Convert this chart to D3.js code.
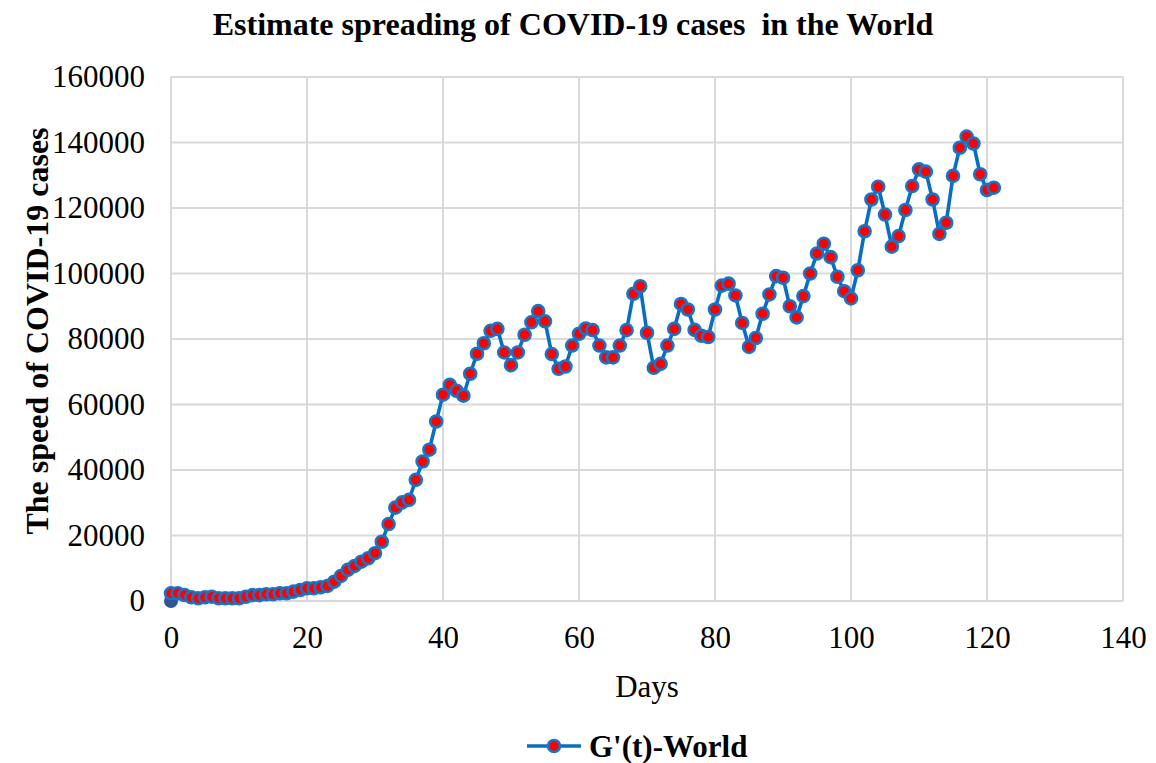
<!DOCTYPE html>
<html>
<head>
<meta charset="utf-8">
<script src="https://cdn.jsdelivr.net/npm/d3@7"></script>
<style>
  html, body { margin: 0; padding: 0; background: #fff; }
  svg { display: block; font-family: "Liberation Serif", "Times New Roman", serif; }
</style>
</head>
<body>
<svg id="chart" width="1156" height="763"></svg>
<script>
// Daily speed of new COVID-19 cases worldwide, G'(t), day 0 .. 121
const days = d3.range(0, 122);
const speed = [
  2350, 2350, 1830, 1130, 830, 1130, 1310, 830, 830, 830,
  830, 1300, 1800, 1800, 2050, 2050, 2350, 2350, 2850, 3350,
  3900, 3900, 4200, 4600, 5900, 7650, 9500, 10700, 12000, 13050,
  14600, 18100, 23500, 28500, 30100, 30900, 37000, 42600, 46200, 54800,
  63000, 66000, 64200, 62700, 69400, 75500, 78700, 82500, 83100, 75900,
  72000, 75900, 81300, 85100, 88500, 85400, 75400, 70900, 71600, 78000,
  81600, 83200, 82700, 78000, 74400, 74400, 78000, 82700, 93800, 96100,
  81900, 71200, 72400, 78000, 83100, 90700, 89000, 82800, 81000, 80600,
  89000, 96300, 96900, 93300, 84900, 77600, 80300, 87700, 93600, 99200,
  98700, 90000, 86600, 93100, 100000, 106100, 109100, 105000, 99000, 94600,
  92400, 101000, 112900, 122600, 126500, 118000, 108200, 111400, 119400, 126700,
  131800, 131100, 122600, 112100, 115500, 129800, 138400, 141800, 139700, 130300,
  125500, 126200
];
// Starting point of the curve at the origin
const originDay = [0];
const originValue = [0];

const xTicks = [0, 20, 40, 60, 80, 100, 120, 140];
const yTicks = [0, 20000, 40000, 60000, 80000, 100000, 120000, 140000, 160000];

const title = "Estimate spreading of COVID-19 cases\u00a0\u00a0in the World";
const xTitle = "Days";
const yTitle = "The speed of COVID-19 cases";
const seriesName = "G'(t)-World";

const serif = "Liberation Serif, Times New Roman, serif";
const svg = d3.select("#chart");
const x = d3.scaleLinear().domain([0, 140]).range([171, 1123]);
const y = d3.scaleLinear().domain([0, 160000]).range([601, 77]);

const gridColor = "#d9d9d9";
const lineColor = "#0a6ec0";
const markerStroke = "#1874c6";
const markerFill = "#ff0000";

// Gridlines
svg.append("g")
  .selectAll("line")
  .data(yTicks)
  .join("line")
  .attr("x1", x(0)).attr("x2", x(140))
  .attr("y1", d => y(d)).attr("y2", d => y(d))
  .attr("stroke", gridColor).attr("stroke-width", 2);

svg.append("g")
  .selectAll("line")
  .data(xTicks)
  .join("line")
  .attr("x1", d => x(d)).attr("x2", d => x(d))
  .attr("y1", y(0)).attr("y2", y(160000))
  .attr("stroke", gridColor).attr("stroke-width", 2);

// Axes (labels only; lines come from the grid)
const yAxis = d3.axisLeft(y).tickValues(yTicks).tickSize(0).tickPadding(0).tickFormat(d3.format("d"));
const gy = svg.append("g").attr("transform", `translate(${x(0) - 26},0)`).call(yAxis);
gy.select(".domain").remove();
gy.selectAll("text")
  .attr("font-size", 31).attr("fill", "#000")
  .attr("font-family", serif);

const xAxis = d3.axisBottom(x).tickValues(xTicks).tickSize(0).tickPadding(0);
const gx = svg.append("g").attr("transform", `translate(0,${y(0) + 25})`).call(xAxis);
gx.select(".domain").remove();
gx.selectAll("text")
  .attr("font-size", 31).attr("fill", "#000")
  .attr("font-family", serif);

// Series line
const pts = days.map((d, i) => [d, speed[i]]);
svg.append("path")
  .datum(pts)
  .attr("fill", "none")
  .attr("stroke", lineColor)
  .attr("stroke-width", 3.6)
  .attr("stroke-linejoin", "round")
  .attr("d", d3.line().x(d => x(d[0])).y(d => y(d[1])));

// Origin marker
svg.append("g")
  .selectAll("circle")
  .data(originDay.map((d, i) => [d, originValue[i]]))
  .join("circle")
  .attr("cx", d => x(d[0])).attr("cy", d => y(d[1]))
  .attr("r", 7)
  .attr("fill", "#2f5597");

// Markers
svg.append("g")
  .selectAll("circle")
  .data(pts)
  .join("circle")
  .attr("cx", d => x(d[0])).attr("cy", d => y(d[1]))
  .attr("r", 6)
  .attr("fill", markerFill)
  .attr("stroke", markerStroke)
  .attr("stroke-width", 2.6);

// Title
svg.append("text")
  .attr("x", 573).attr("y", 35)
  .attr("text-anchor", "middle")
  .attr("font-size", 32).attr("font-weight", "bold")
  .text(title);

// Axis titles
svg.append("text")
  .attr("x", 647).attr("y", 697)
  .attr("text-anchor", "middle")
  .attr("font-size", 31)
  .text(xTitle);

svg.append("text")
  .attr("transform", "translate(48,331) rotate(-90)")
  .attr("text-anchor", "middle")
  .attr("font-size", 32).attr("font-weight", "bold")
  .text(yTitle);

// Legend
const lg = svg.append("g").attr("transform", "translate(527,746)");
lg.append("line").attr("x1", 0).attr("x2", 54).attr("y1", 0).attr("y2", 0)
  .attr("stroke", lineColor).attr("stroke-width", 3.6);
lg.append("circle").attr("cx", 27).attr("cy", 0).attr("r", 6)
  .attr("fill", markerFill).attr("stroke", markerStroke).attr("stroke-width", 2.6);
lg.append("text").attr("x", 62).attr("y", 11)
  .attr("font-size", 31).attr("font-weight", "bold")
  .text(seriesName);
</script>
</body>
</html>
